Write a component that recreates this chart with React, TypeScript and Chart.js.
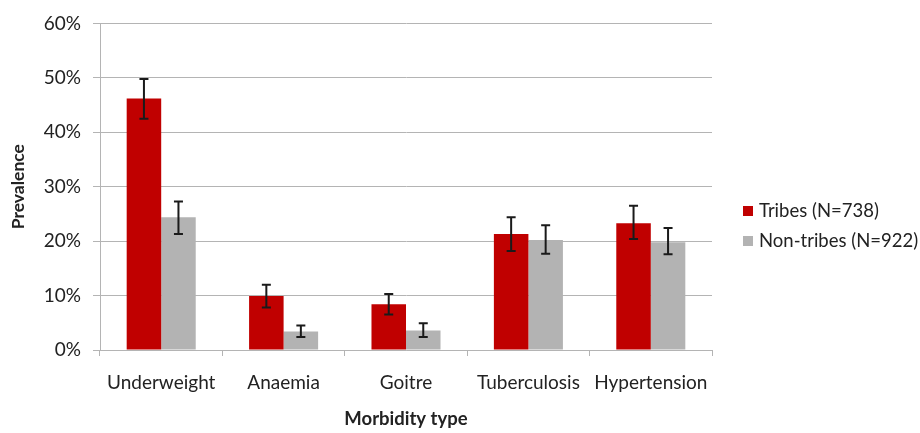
import React, { useEffect, useRef } from "react";
import { Chart, registerables } from "chart.js";

Chart.register(...registerables);

const categories = ["Underweight", "Anaemia", "Goitre", "Tuberculosis", "Hypertension"];
const tribesLabel = "Tribes (N=738)";
const nonTribesLabel = "Non-tribes (N=922)";
const tribes = [46.2, 9.9, 8.4, 21.3, 23.3];
const tribesLow = [42.5, 7.8, 6.5, 18.2, 20.4];
const tribesHigh = [49.8, 12.0, 10.3, 24.4, 26.5];
const nonTribes = [24.4, 3.4, 3.6, 20.2, 19.8];
const nonTribesLow = [21.3, 2.4, 2.4, 17.7, 17.6];
const nonTribesHigh = [27.3, 4.5, 4.9, 22.9, 22.4];
const yTicks = [0, 10, 20, 30, 40, 50, 60];

const FONT = "Lato";
const TEXT = "#222222";
const GRID = "#b4b4b4";
const RED = "#c00000";
const GREY = "#b3b3b3";

const errorBars = {
  id: "errorBars",
  afterDatasetsDraw(chart: any) {
    const ctx = chart.ctx;
    const y = chart.scales.y;
    const lows = [tribesLow, nonTribesLow];
    const highs = [tribesHigh, nonTribesHigh];
    ctx.save();
    ctx.strokeStyle = "#1a1a1a";
    ctx.lineWidth = 2;
    chart.data.datasets.forEach((_: any, di: number) => {
      const meta = chart.getDatasetMeta(di);
      meta.data.forEach((bar: any, i: number) => {
        const x = bar.x;
        const yl = y.getPixelForValue(lows[di][i]);
        const yh = y.getPixelForValue(highs[di][i]);
        ctx.beginPath();
        ctx.moveTo(x, yl);
        ctx.lineTo(x, yh);
        ctx.moveTo(x - 4.5, yl);
        ctx.lineTo(x + 4.5, yl);
        ctx.moveTo(x - 4.5, yh);
        ctx.lineTo(x + 4.5, yh);
        ctx.stroke();
      });
    });
    ctx.restore();
  },
};

const customLegend = {
  id: "customLegend",
  afterDraw(chart: any) {
    const ctx = chart.ctx;
    ctx.save();
    ctx.font = `18.5px ${FONT}`;
    ctx.textBaseline = "middle";
    ctx.textAlign = "left";
    const ys = [211, 241];
    chart.data.datasets.forEach((ds: any, i: number) => {
      ctx.fillStyle = ds.backgroundColor;
      ctx.fillRect(743, ys[i] - 5, 10, 10);
      ctx.fillStyle = TEXT;
      ctx.fillText(ds.label, 759, ys[i]);
    });
    ctx.restore();
  },
};

export default function App() {
  const ref = useRef<HTMLCanvasElement>(null);
  useEffect(() => {
    if (!ref.current) return;
    const chart = new Chart(ref.current, {
      type: "bar",
      data: {
        labels: categories,
        datasets: [
          { label: tribesLabel, data: tribes, backgroundColor: RED, categoryPercentage: 0.564, barPercentage: 1 },
          { label: nonTribesLabel, data: nonTribes, backgroundColor: GREY, categoryPercentage: 0.564, barPercentage: 1 },
        ],
      },
      options: {
        animation: false,
        responsive: false,
        maintainAspectRatio: false,
        layout: { padding: { left: 0, top: 20, right: 208, bottom: 0 } },
        plugins: { legend: { display: false }, tooltip: { enabled: false } },
        scales: {
          x: {
            afterFit(scale: any) {
              scale.height = 83;
            },
            grid: {
              display: true,
              drawOnChartArea: false,
              drawTicks: true,
              tickLength: 6,
              color: GRID,
              offset: true,
            },
            border: { display: true, color: GRID, width: 1 },
            ticks: { color: TEXT, font: { family: FONT, size: 19 }, padding: 15, maxRotation: 0 },
            title: {
              display: true,
              text: "Morbidity type",
              color: TEXT,
              font: { family: FONT, size: 18.5, weight: "bold" },
              padding: { top: 4, bottom: 3 },
            },
          },
          y: {
            min: 0,
            max: 60,
            afterFit(scale: any) {
              scale.width = 100;
            },
            afterBuildTicks(scale: any) {
              scale.ticks = yTicks.map((v) => ({ value: v }));
            },
            grid: { color: GRID, tickLength: 7, lineWidth: 1 },
            border: { display: true, color: GRID, width: 1 },
            ticks: {
              color: TEXT,
              font: { family: FONT, size: 19 },
              padding: 12,
              callback: (v: any) => `${v}%`,
            },
            title: {
              display: true,
              text: "Prevalence",
              color: TEXT,
              font: { family: FONT, size: 17.5, weight: "bold" },
              padding: { top: 8, bottom: 4 },
            },
          },
        },
      },
      plugins: [errorBars, customLegend],
    });
    return () => chart.destroy();
  }, []);
  return (
    <div style={{ position: "fixed", left: 0, top: 0, width: 920, height: 433, background: "#fff" }}>
      <canvas ref={ref} width={920} height={433} style={{ width: 920, height: 433, display: "block" }} />
    </div>
  );
}
